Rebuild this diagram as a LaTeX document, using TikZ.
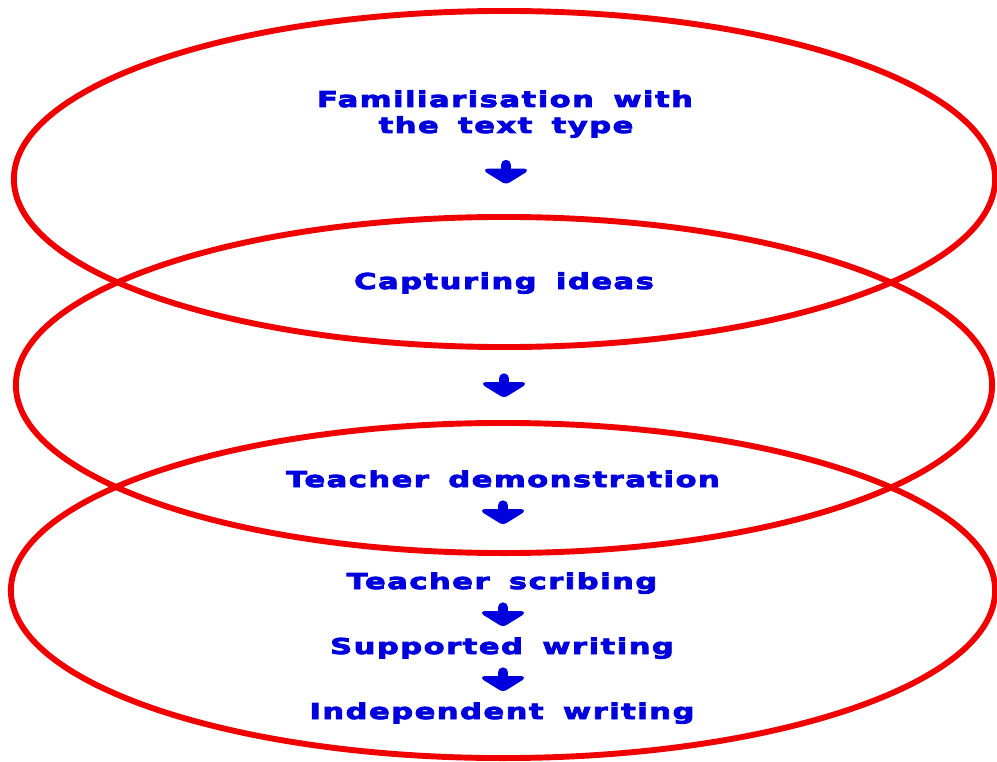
\documentclass[tikz,border=0pt]{standalone}
\usepackage{fontspec}
\usetikzlibrary{shapes.geometric}
\newfontfamily\lblfont{DejaVu Sans}[FakeStretch=1.4,LetterSpace=7,WordSpace=1.6,FakeBold=4]
\definecolor{ringred}{RGB}{240,0,0}
\definecolor{lblblue}{RGB}{0,0,222}
\tikzset{
  ring/.style={draw=ringred, line width=4.2pt, ellipse, inner sep=0pt},
  lbl/.style={text=lblblue, font=\lblfont\bfseries\fontsize{15.5}{18}\selectfont, anchor=base, inner sep=0pt},
  downarr/.pic={
    \draw[lblblue, line width=0.26cm, line cap=round] (0,-7) -- (0,1);
    \filldraw[lblblue, line width=2pt, line join=round, rounded corners=2pt]
      (-21,-2) -- (21,-2) -- (0,11) -- cycle;}
}
\begin{document}
\begin{tikzpicture}[x=0.025cm, y=-0.025cm]
\useasboundingbox (0,0) rectangle (997,761);
% rings
\node[ring, minimum width=24.525cm, minimum height=8.4cm] (e1) at (504.5,179) {};
\node[ring, minimum width=24.4cm, minimum height=8.4cm] (e2) at (504,385) {};
\node[ring, minimum width=24.6cm, minimum height=8.375cm] (e3) at (503,590.5) {};
% labels
\node[lbl] (fam1) at (505,107) {Familiarisation with};
\node[lbl] (fam2) at (506,133) {the text type};
\node[lbl] (cap) at (504,289) {Capturing ideas};
\node[lbl] (tdemo) at (503,487) {Teacher demonstration};
\node[lbl] (tscrib) at (502,589) {Teacher scribing};
\node[lbl] (supp) at (502,654) {Supported writing};
\node[lbl] (indep) at (502,719) {Independent writing};
% arrows
\coordinate (a1) at (506,172);
\coordinate (a2) at (504,385.5);
\coordinate (a3) at (503,512.5);
\coordinate (a4) at (503,614.5);
\coordinate (a5) at (503,679.5);
\foreach \c in {a1,a2,a3,a4,a5} \pic at (\c) {downarr};
\end{tikzpicture}
\end{document}
